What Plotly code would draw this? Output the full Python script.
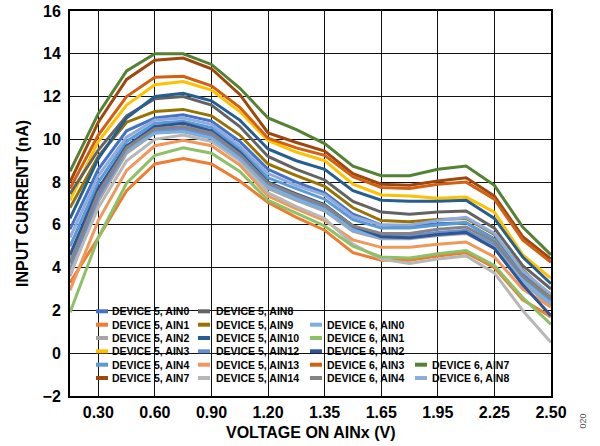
import plotly.graph_objects as go

# ---------------- data ----------------
VOLTAGES = ["0.15", "0.30", "0.45", "0.60", "0.75", "0.90", "1.05", "1.20", "1.28",
            "1.35", "1.50", "1.65", "1.80", "1.95", "2.10", "2.25", "2.40", "2.50"]
X_TICK_LABELS = ["0.30", "0.60", "0.90", "1.20", "1.35", "1.65", "1.95", "2.25", "2.50"]
Y_TICKS = [-2, 0, 2, 4, 6, 8, 10, 12, 14, 16]
X_TITLE = "VOLTAGE ON AINx (V)"
Y_TITLE = "INPUT CURRENT (nA)"

D5_AIN0 = [5.8, 8.6, 10.4, 11.0, 11.15, 10.85, 9.9, 8.6, 8.0, 7.5, 6.5, 6.0, 5.95, 6.05, 6.1, 5.35, 3.7, 2.5]
D5_AIN1 = [3.3, 5.4, 7.6, 8.85, 9.1, 8.85, 8.05, 7.05, 6.35, 5.75, 4.7, 4.35, 4.35, 4.55, 4.7, 4.0, 2.5, 1.7]
D5_AIN2 = [3.6, 7.1, 9.35, 10.3, 10.4, 10.1, 9.1, 7.7, 7.15, 6.65, 5.7, 5.35, 5.35, 5.5, 5.6, 4.9, 3.3, 2.2]
D5_AIN3 = [7.15, 9.9, 11.6, 12.55, 12.7, 12.3, 11.3, 9.95, 9.4, 9.0, 7.9, 7.4, 7.35, 7.25, 7.3, 6.6, 4.6, 3.5]
D5_AIN4 = [5.0, 8.0, 9.9, 10.75, 10.85, 10.55, 9.55, 8.2, 7.7, 7.2, 6.25, 5.85, 5.85, 6.0, 6.1, 5.3, 3.6, 2.4]
D5_AIN7 = [8.0, 10.8, 12.8, 13.7, 13.8, 13.3, 12.1, 10.3, 9.85, 9.45, 8.4, 7.9, 7.85, 8.05, 8.2, 7.35, 5.45, 4.4]
D5_AIN8 = [7.45, 9.5, 11.1, 11.9, 12.0, 11.6, 10.6, 9.2, 8.6, 8.1, 7.1, 6.6, 6.5, 6.6, 6.65, 5.85, 4.1, 3.0]
D5_AIN9 = [6.8, 9.2, 10.8, 11.3, 11.4, 11.1, 10.2, 8.85, 8.3, 7.8, 6.8, 6.2, 6.15, 6.25, 6.3, 5.55, 3.9, 2.65]
D5_AIN10 = [6.3, 9.1, 11.0, 12.0, 12.15, 11.8, 10.9, 9.55, 9.0, 8.6, 7.6, 7.15, 7.1, 7.1, 7.15, 6.3, 4.5, 3.25]
D5_AIN12 = [3.9, 7.3, 9.5, 10.4, 10.5, 10.2, 9.2, 7.85, 7.3, 6.8, 5.85, 5.5, 5.5, 5.65, 5.75, 5.05, 3.45, 2.3]
D5_AIN13 = [2.95, 6.2, 8.55, 9.7, 9.95, 9.7, 8.8, 7.35, 6.75, 6.2, 5.3, 4.95, 4.95, 5.1, 5.2, 4.5, 3.0, 2.15]
D5_AIN14 = [3.7, 6.8, 9.0, 10.0, 10.2, 9.9, 9.0, 7.5, 6.85, 6.3, 5.1, 4.4, 4.2, 4.4, 4.55, 3.75, 2.0, 0.5]
D6_AIN0 = [4.4, 7.6, 9.5, 10.3, 10.35, 10.05, 9.1, 7.8, 7.2, 6.7, 5.75, 5.4, 5.4, 5.55, 5.65, 4.95, 3.4, 2.3]
D6_AIN1 = [1.9, 5.4, 7.95, 9.25, 9.6, 9.35, 8.5, 7.15, 6.55, 5.95, 5.0, 4.5, 4.45, 4.65, 4.8, 4.1, 2.6, 1.35]
D6_AIN2 = [4.6, 7.7, 9.7, 10.6, 10.75, 10.4, 9.4, 8.0, 7.45, 6.95, 5.95, 5.45, 5.4, 5.55, 5.65, 4.9, 3.2, 1.75]
D6_AIN3 = [7.7, 10.2, 12.0, 12.9, 12.95, 12.5, 11.5, 10.05, 9.6, 9.25, 8.25, 7.75, 7.7, 7.9, 8.0, 7.2, 5.3, 4.25]
D6_AIN4 = [4.2, 7.5, 9.6, 10.5, 10.6, 10.3, 9.3, 7.95, 7.4, 6.9, 5.95, 5.6, 5.6, 5.8, 5.9, 5.2, 3.6, 2.55]
D6_AIN7 = [8.5, 11.2, 13.2, 14.0, 14.0, 13.5, 12.4, 11.0, 10.45, 9.8, 8.75, 8.3, 8.3, 8.6, 8.75, 7.85, 5.9, 4.6]
D6_AIN8 = [5.4, 8.3, 10.1, 10.9, 11.0, 10.7, 9.7, 8.4, 7.85, 7.4, 6.4, 6.0, 6.0, 6.2, 6.35, 5.6, 3.85, 2.75]

SERIES_NAMES = ["DEVICE 5, AIN0", "DEVICE 5, AIN1", "DEVICE 5, AIN2", "DEVICE 5, AIN3",
                "DEVICE 5, AIN4", "DEVICE 5, AIN7", "DEVICE 5, AIN8", "DEVICE 5, AIN9",
                "DEVICE 5, AIN10", "DEVICE 5, AIN12", "DEVICE 5, AIN13", "DEVICE 5, AIN14",
                "DEVICE 6, AIN0", "DEVICE 6, AIN1", "DEVICE 6, AIN2", "DEVICE 6, AIN3",
                "DEVICE 6, AIN4", "DEVICE 6, AIN7", "DEVICE 6, AIN8"]
SERIES_VALUES = [D5_AIN0, D5_AIN1, D5_AIN2, D5_AIN3, D5_AIN4, D5_AIN7, D5_AIN8, D5_AIN9,
                 D5_AIN10, D5_AIN12, D5_AIN13, D5_AIN14, D6_AIN0, D6_AIN1, D6_AIN2,
                 D6_AIN3, D6_AIN4, D6_AIN7, D6_AIN8]

# ---------------- style ----------------
SERIES_COLORS = ["#4472C4", "#ED7D31", "#A5A5A5", "#FFC000", "#5B9BD5", "#9E480E",
                 "#636363", "#997300", "#255E91", "#698ED0", "#F1975A", "#B7B7B7",
                 "#7CAFDD", "#8CC168", "#2F5597", "#D26012", "#848484", "#548235",
                 "#8FAADC"]
# legend slot (column, row) for each series
LEGEND_SLOTS = [(0, 0), (0, 1), (0, 2), (0, 3), (0, 4), (0, 5),
                (1, 0), (1, 1), (1, 2), (1, 3), (1, 4), (1, 5),
                (2, 1), (2, 2), (2, 3), (2, 4), (2, 5),
                (3, 4), (3, 5)]
# positions below are page pixels
COL_SWATCH_X = [96, 198, 310, 415]
COL_TEXT_X = [110, 214, 325, 430]
ROW_Y = [311.3, 324.7, 338.0, 351.3, 364.7, 378.0]

FONT = "Liberation Sans, Arial, sans-serif"
W, H = 600, 446
PLOT_L, PLOT_R, PLOT_T, PLOT_B = 70, 551, 11, 396   # plot area in page pixels


def px_x(px):
    return (px - PLOT_L) / (PLOT_R - PLOT_L)


def px_y(py):
    return (PLOT_B - py) / (PLOT_B - PLOT_T)


fig = go.Figure()
for name, vals, col in zip(SERIES_NAMES, SERIES_VALUES, SERIES_COLORS):
    fig.add_trace(go.Scatter(x=VOLTAGES, y=vals, name=name, mode="lines",
                             line=dict(color=col, width=3), showlegend=False,
                             hoverinfo="skip"))

shapes = [dict(type="rect", xref="paper", yref="paper",
               x0=px_x(88), x1=px_x(517), y0=px_y(392), y1=px_y(305),
               fillcolor="white", line=dict(width=0), layer="between")]
annotations = []
for name, col, (c, r) in zip(SERIES_NAMES, SERIES_COLORS, LEGEND_SLOTS):
    yy = px_y(ROW_Y[r])
    shapes.append(dict(type="line", xref="paper", yref="paper",
                       x0=px_x(COL_SWATCH_X[c]), x1=px_x(COL_SWATCH_X[c] + 12),
                       y0=yy, y1=yy, line=dict(color=col, width=4), layer="above"))
    annotations.append(dict(xref="paper", yref="paper", x=px_x(COL_TEXT_X[c]), y=yy,
                            text=name, showarrow=False, xanchor="left", yanchor="middle",
                            font=dict(family=FONT, size=10.5, color="black", weight="bold")))

title_font = dict(family=FONT, size=16, color="black", weight="bold")
annotations.append(dict(xref="paper", yref="paper", x=px_x(310.5), y=px_y(432),
                        text=X_TITLE, showarrow=False, xanchor="center", yanchor="middle",
                        font=title_font))
annotations.append(dict(xref="paper", yref="paper", x=px_x(22), y=px_y(204),
                        text=Y_TITLE, showarrow=False, textangle=-90,
                        xanchor="center", yanchor="middle", font=title_font))
annotations.append(dict(xref="paper", yref="paper", x=px_x(590), y=px_y(431),
                        text="020", showarrow=False, textangle=-90,
                        font=dict(family=FONT, size=9, color="#555555")))

axis_common = dict(showgrid=True, gridcolor="#111111", gridwidth=1.3,
                   showline=True, linecolor="black", linewidth=2, mirror=True,
                   ticks="", zeroline=False, automargin=False, ticklabeloverflow="allow",
                   tickfont=dict(family=FONT, size=16, color="black", weight="bold"))

fig.update_layout(
    width=W, height=H,
    margin=dict(l=PLOT_L, r=W - PLOT_R, t=PLOT_T, b=H - PLOT_B, pad=0, autoexpand=False),
    paper_bgcolor="white", plot_bgcolor="white",
    showlegend=False,
    shapes=shapes, annotations=annotations,
    xaxis=dict(type="category", range=[0, len(VOLTAGES) - 1], tickmode="array",
               tickvals=X_TICK_LABELS, ticktext=X_TICK_LABELS, ticklabelstandoff=1,
               **axis_common),
    yaxis=dict(range=[Y_TICKS[0], Y_TICKS[-1]], tickmode="array", tickvals=Y_TICKS,
               ticklabelstandoff=4, **axis_common),
)

fig.write_html("out.html", config={"displayModeBar": False},
               post_script="document.body.style.margin='0';")
